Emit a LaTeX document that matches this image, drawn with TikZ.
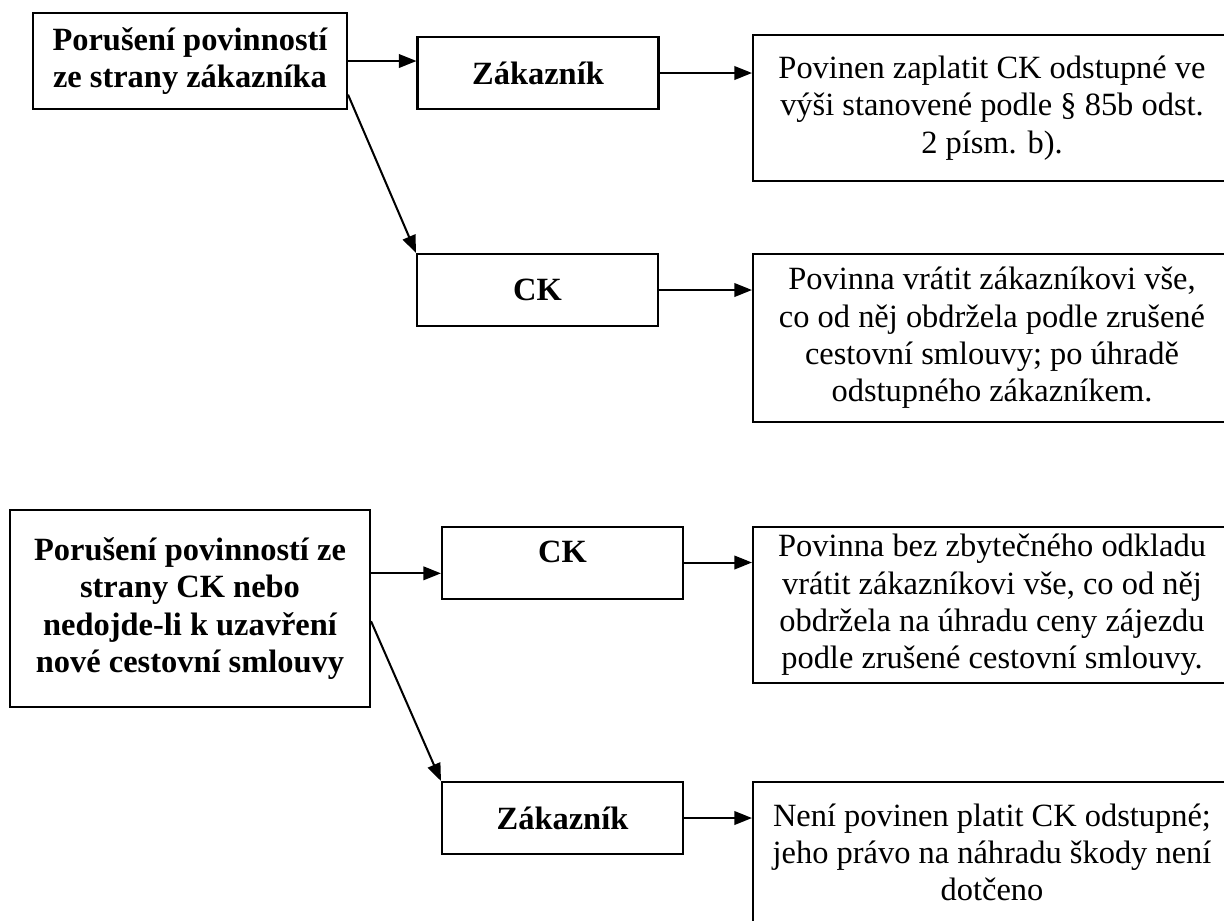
\documentclass[tikz,border=0pt]{standalone}
\usepackage{fontspec}
\setmainfont{Liberation Serif}
\usetikzlibrary{arrows.meta}
\def\pxu{0.013cm}
\tikzstyle{cause} = [rectangle, draw, line width=0.75pt, align=center, inner sep=0pt, font=\bfseries\fontsize{12}{13.8}\selectfont]
\tikzstyle{party} = [rectangle, draw, line width=0.75pt, align=center, inner sep=0pt, minimum width=241*\pxu, minimum height=72*\pxu, font=\bfseries\fontsize{12}{13.8}\selectfont]
\tikzstyle{duty} = [rectangle, draw, line width=0.75pt, align=center, inner sep=0pt, minimum width=478*\pxu, font=\fontsize{12}{13.8}\selectfont]
\tikzstyle{connector} = [line width=0.75pt, -{Triangle[length=6.5pt, width=5pt]}]

\begin{document}
\begin{tikzpicture}[x=\pxu, y=-\pxu]
            \clip (0,0) rectangle (1224,920);
            % breach by the customer
            \node (custA) [cause, minimum width=314*\pxu, minimum height=96*\pxu] at (190,61) {Porušení povinností\\ze strany zákazníka};
            \node (custZ) [party] at (538,73) {Zákazník};
            \node (custZd) [duty, minimum height=146*\pxu] at (992,108) {Povinen zaplatit CK odstupné ve\\výši stanovené podle § 85b odst.\\2 písm. b).};
            \node (custCK) [party] at (537.5,290) {CK};
            \node (custCKd) [duty, minimum height=168*\pxu] at (992,338) {Povinna vrátit zákazníkovi vše,\\co od něj obdržela podle zrušené\\cestovní smlouvy; po úhradě\\odstupného zákazníkem.};
            \draw [connector] (custA.east) -- (custA.east -| custZ.west);
            \draw [connector] (custZ.east) -- (custZ.east -| custZd.west);
            \draw [connector] (custA.-12) -- (custCK.north west);
            \draw [connector] (custCK.east) -- (custCK.east -| custCKd.west);
            % breach by CK
            \node (ckB) [cause, minimum width=360*\pxu, minimum height=197*\pxu] at (190,608.5) {Porušení povinností ze\\strany CK nebo\\nedojde-li k uzavření\\nové cestovní smlouvy};
            \node (ckCK) [party, text height=0.47cm, text depth=0.466cm] at (562.5,562.5) {CK};
            \node (ckCKd) [duty, minimum height=156*\pxu] at (992,605) {Povinna bez zbytečného odkladu\\vrátit zákazníkovi vše, co od něj\\obdržela na úhradu ceny zájezdu\\podle zrušené cestovní smlouvy.};
            \node (ckZ) [party] at (562.5,818) {Zákazník};
            \node (ckZd) [duty, minimum height=141*\pxu] at (992,852.5) {Není povinen platit CK odstupné;\\jeho právo na náhradu škody není\\dotčeno};
            \draw [connector] (ckB.11) -- (ckB.11 -| ckCK.west);
            \draw [connector] (ckCK.east) -- (ckCK.east -| ckCKd.west);
            \draw [connector] (ckB.-4) -- (ckZ.north west);
            \draw [connector] (ckZ.east) -- (ckZ.east -| ckZd.west);
        \end{tikzpicture}
\end{document}
